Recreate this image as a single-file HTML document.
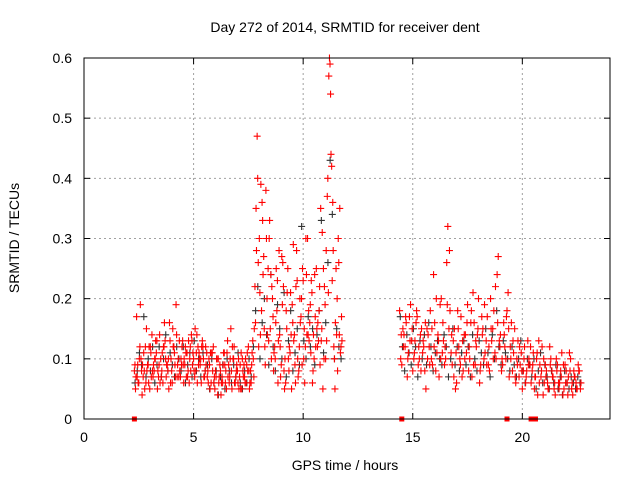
<!DOCTYPE html>
<html><head><meta charset="utf-8"><style>
body{margin:0;background:#fff;}
svg{display:block;font-family:"Liberation Sans",sans-serif;}
</style></head><body>
<svg id="chart" width="640" height="480">
<text x="345" y="32" font-size="14" text-anchor="middle">Day 272 of 2014, SRMTID for receiver dent</text>
<text x="345" y="470" font-size="14" text-anchor="middle">GPS time / hours</text>
<text x="0" y="0" font-size="14" text-anchor="middle" transform="translate(19,238) rotate(-90)">SRMTID / TECUs</text>
<g id="grid"></g>
<g id="ticks"></g>
<g id="black"></g>
<g id="red"></g>
<rect x="84" y="58" width="526" height="361" fill="none" stroke="#000" stroke-width="1"/>
</svg>
<script>
const xTicks=[0,5,10,15,20];
const yTicks=[0,0.1,0.2,0.3,0.4,0.5,0.6];
const yTickLabels=["0","0.1","0.2","0.3","0.4","0.5","0.6"];
const segAStart=2.3, segBStart=14.4, step=0.1;
const redA1=[.08,.17,.06,.10,.07,.12,.09,.05,.14,.08,.11,.07,.10,.06,.13,.09,.16,.08,.12,.19,.10,.07,.13,.09,.11,.06,.14,.10,.08,.12,.09,.13,.07,.11,.10,.06,.12,.08,.04,.09,.07,.11,.05,.09,.15,.10,.06,.08,.07,.05,.09,.06,.12,.08,.13,.22,.47,.30,.18,.27,.38,.25,.15,.20,.12,.18,.28,.09,.22,.06,.25,.11,.19,.14,.28,.08,.17,.23,.12,.30,.16,.21,.10,.25,.13,.35,.05,.19,.37,.60,.42,.12,.25,.30,.11];
const redA2=[.05,.09,.12,.04,.08,.15,.06,.11,.07,.10,.05,.14,.08,.12,.07,.10,.06,.15,.09,.07,.13,.09,.06,.11,.08,.12,.09,.07,.14,.11,.06,.10,.12,.08,.05,.11,.07,.10,.06,.04,.09,.06,.13,.07,.05,.12,.08,.10,.05,.08,.06,.11,.05,.09,.07,.35,.26,.14,.33,.12,.20,.30,.10,.08,.16,.06,.12,.19,.05,.15,.08,.14,.29,.06,.10,.20,.09,.15,.24,.18,.11,.08,.17,.12,.22,.15,.10,.28,.21,.54,.36,.05,.20,.14,.17];
const redA3=[.07,.06,.19,.09,.05,.08,.12,.07,.09,.13,.08,.06,.11,.16,.09,.05,.10,.12,.07,.09,.08,.12,.10,.07,.13,.08,.11,.15,.06,.10,.12,.07,.09,.06,.11,.08,.05,.10,.07,.06,.11,.08,.07,.10,.12,.06,.09,.05,.11,.07,.10,.08,.06,.11,.15,.28,.12,.39,.24,.09,.14,.33,.22,.11,.25,.13,.07,.26,.10,.21,.12,.05,.13,.22,.07,.16,.25,.06,.14,.13,.23,.14,.12,.16,.09,.31,.22,.13,.57,.44,.28,.16,.08,.35,.13];
const redA4=[.09,.07,.10,.08,.11,.06,.09,.12,.08,.10,.13,.09,.07,.12,.10,.08,.13,.06,.11,.14,.07,.10,.09,.12,.07,.10,.13,.08,.11,.09,.10,.12,.08,.07,.09,.11,.06,.07,.10,.08,.06,.09,.11,.06,.08,.10,.07,.06,.09,.10,.07,.09,.08,.06,.10,.16,.40,.21,.36,.15,.30,.13,.24,.17,.10,.23,.14,.27,.08,.18,.10,.21,.16,.09,.23,.12,.20,.10,.30,.14,.19,.06,.24,.15,.18,.13,.25,.10,.40,.59,.23,.10,.14,.26,.12];
const redB1=[.18,.09,.14,.16,.11,.19,.08,.13,.17,.10,.15,.12,.05,.14,.18,.09,.16,.11,.07,.20,.13,.10,.32,.18,.09,.15,.06,.12,.17,.08,.14,.19,.10,.07,.16,.12,.20,.09,.15,.11,.17,.08,.13,.18,.10,.27,.14,.09,.12,.18,.07,.16,.11,.06,.13,.09,.05,.12,.08,.10,.06,.11,.07,.04,.09,.12,.06,.08,.05,.10,.07,.04,.09,.06,.11,.05,.08,.07,.10,.04,.07,.05,.08];
const redB2=[.10,.15,.12,.07,.17,.13,.10,.16,.09,.14,.11,.08,.15,.12,.10,.24,.08,.14,.19,.11,.09,.26,.15,.11,.13,.05,.18,.10,.07,.14,.11,.08,.16,.21,.09,.14,.06,.17,.10,.13,.09,.20,.15,.11,.24,.13,.08,.16,.10,.21,.12,.08,.15,.10,.07,.11,.08,.06,.13,.09,.08,.05,.10,.13,.07,.04,.09,.06,.12,.08,.05,.10,.06,.08,.04,.09,.06,.11,.05,.08,.06,.09,.05];
const redB3=[.14,.12,.17,.10,.13,.15,.11,.18,.12,.08,.13,.16,.10,.09,.15,.12,.20,.13,.10,.16,.12,.19,.28,.14,.07,.11,.15,.09,.13,.10,.16,.12,.18,.09,.13,.15,.08,.14,.19,.09,.12,.15,.10,.22,.16,.12,.10,.14,.17,.15,.10,.13,.07,.09,.12,.08,.10,.07,.09,.12,.09,.07,.11,.06,.08,.10,.07,.05,.09,.07,.06,.08,.05,.07,.09,.06,.04,.08,.06,.07,.05,.08,.06];
const blackA=[.06,.08,.11,.09,.17,.07,.10,.08,.12,.06,.09,.12,.07,.10,.14,.08,.11,.09,.07,.12,.10,.08,.12,.06,.09,.11,.07,.13,.08,.10,.07,.11,.08,.09,.05,.10,.06,.08,.04,.07,.09,.05,.10,.08,.06,.09,.07,.11,.06,.05,.08,.06,.10,.07,.12,.18,.22,.10,.16,.20,.14,.09,.24,.12,.08,.19,.15,.10,.21,.07,.13,.18,.08,.11,.15,.09,.32,.13,.10,.17,.12,.15,.09,.14,.18,.33,.11,.16,.26,.43,.34,.10,.15,.12,.10];
const blackB=[.17,.12,.08,.14,.11,.09,.15,.12,.07,.13,.10,.14,.09,.16,.12,.08,.11,.13,.10,.09,.14,.12,.07,.10,.15,.09,.12,.08,.11,.13,.09,.12,.07,.14,.10,.08,.13,.11,.09,.15,.11,.07,.14,.10,.18,.12,.09,.13,.11,.10,.08,.12,.09,.07,.10,.13,.08,.06,.10,.09,.07,.10,.05,.08,.11,.06,.09,.07,.05,.08,.06,.09,.05,.07,.04,.08,.06,.05,.07,.06,.05,.07,.06];
const gapTimes=[2.3,14.5,19.3,20.4,20.6];

const NS="http://www.w3.org/2000/svg";
const X0=84,X1=610,Y0=419,Y1=58;
function xs(t){return X0+(t/24)*(X1-X0);}
function ys(v){return Y0-(v/0.6)*(Y0-Y1);}
function mk(tag,attrs,parent){const e=document.createElementNS(NS,tag);for(const k in attrs)e.setAttribute(k,attrs[k]);parent.appendChild(e);return e;}
const grid=document.getElementById('grid'),ticks=document.getElementById('ticks');
xTicks.forEach((t,i)=>{
  const x=xs(t);
  if(t>0){const l=mk('line',{x1:x,x2:x,y1:Y1,y2:Y0,stroke:'#a0a0a0','stroke-dasharray':'2,3'},grid);
  
  }
  mk('line',{x1:x,x2:x,y1:Y0,y2:Y0-6,stroke:'#000'},ticks);
  mk('line',{x1:x,x2:x,y1:Y1,y2:Y1+6,stroke:'#000'},ticks);
  const tx=mk('text',{x:x,y:Y0+23,'font-size':14,'text-anchor':'middle'},ticks);
  tx.textContent=String(t);
  
  
});
yTicks.forEach((v,i)=>{
  const y=ys(v);
  if(v>0&&v<0.6){const l=mk('line',{x1:X0,x2:X1,y1:y,y2:y,stroke:'#a0a0a0','stroke-dasharray':'2,3'},grid);
  
  }
  mk('line',{x1:X0,x2:X0+6,y1:y,y2:y,stroke:'#000'},ticks);
  mk('line',{x1:X1,x2:X1-6,y1:y,y2:y,stroke:'#000'},ticks);
  const tx=mk('text',{x:X0-12,y:y+5,'font-size':14,'text-anchor':'end'},ticks);
  tx.textContent=yTickLabels[i];
  
  
});
function plus(g,t,v,col){
  const x=xs(t),y=ys(v);
  const p=mk('path',{d:`M${x-3.5},${y}h7M${x},${y-3.5}v7`,stroke:col,'stroke-width':1.1,fill:'none'},g);
  
  
}
function series(g,arr,start,col,off){arr.forEach((v,i)=>plus(g,start+i*step+off,v,col));}
const gb=document.getElementById('black'),gr=document.getElementById('red');
series(gb,blackA,segAStart,'#333',0.03);
series(gb,blackB,segBStart,'#333',0.03);
series(gr,redA1,segAStart,'#ff0000',0);
series(gr,redA2,segAStart,'#ff0000',0.05);
series(gr,redA3,segAStart,'#ff0000',0.07);
series(gr,redA4,segAStart,'#ff0000',0.025);
series(gr,redB1,segBStart,'#ff0000',0);
series(gr,redB2,segBStart,'#ff0000',0.05);
series(gr,redB3,segBStart,'#ff0000',0.075);
gapTimes.forEach(t=>{
  const r=mk('rect',{x:xs(t)-2.5,y:Y0-2.5,width:5,height:5,fill:'#ff0000'},gr);
  
  
});
</script>
</body></html>
